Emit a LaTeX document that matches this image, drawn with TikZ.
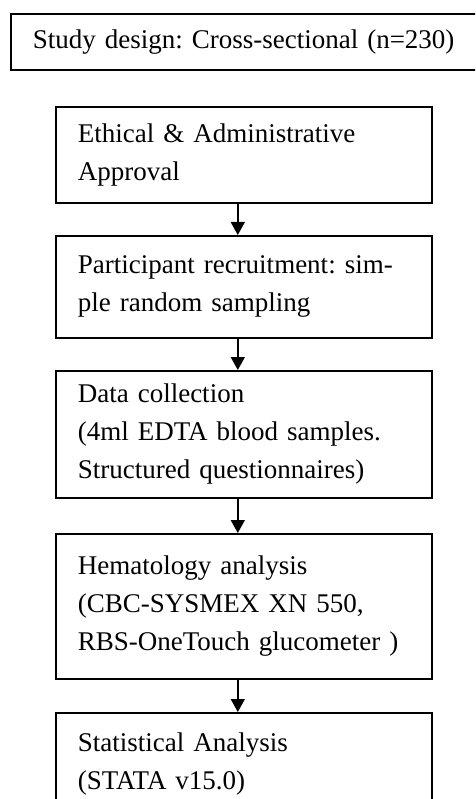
\documentclass[tikz,border=0pt]{standalone}
\usepackage{fontspec}
\setmainfont{Liberation Serif}
\usetikzlibrary{arrows.meta}
\tikzset{
  stage/.style={draw, line width=1.6pt, anchor=north west, inner xsep=22pt, inner ysep=0pt,
    align=left, text width=332pt, minimum width=376pt,
    font=\fontsize{27}{38}\selectfont\frenchspacing},
  flow/.style={line width=1.6pt, -{Triangle[length=13pt,width=14pt]}}
}

\begin{document}
\begin{tikzpicture}[x=1pt, y=-1pt]
    \clip (0,0) rectangle (475,799);
% Design
    \node[stage, text width=422pt, minimum width=466pt, minimum height=56pt] (design) at (10,13)
        {Study design: Cross-sectional (n=230)};
% Steps
    \node[stage, minimum height=96pt] (approval) at (55,106)
        {Ethical \& Administrative\\Approval};
    \node[stage, minimum height=102pt] (recruit) at (55,235)
        {Participant recruitment: sim-\\ple random sampling};
    \node[stage, minimum height=127pt] (collect) at (55,370)
        {Data collection\\(4ml EDTA blood samples.\\Structured questionnaires)};
    \node[stage, minimum height=145pt] (hemato) at (55,533)
        {Hematology analysis\\(CBC-SYSMEX XN 550,\\RBS-OneTouch glucometer )};
    \node[stage, minimum height=102pt] (stats) at (55,712)
        {Statistical Analysis\\(STATA v15.0)};
% Arrows
    \draw[flow] ([xshift=-6pt]approval.south) -- ([xshift=-6pt]recruit.north);
    \draw[flow] ([xshift=-6pt]recruit.south) -- ([xshift=-6pt]collect.north);
    \draw[flow] ([xshift=-6pt]collect.south) -- ([xshift=-6pt]hemato.north);
    \draw[flow] ([xshift=-6pt]hemato.south) -- ([xshift=-6pt]stats.north);
\end{tikzpicture}
\end{document}
